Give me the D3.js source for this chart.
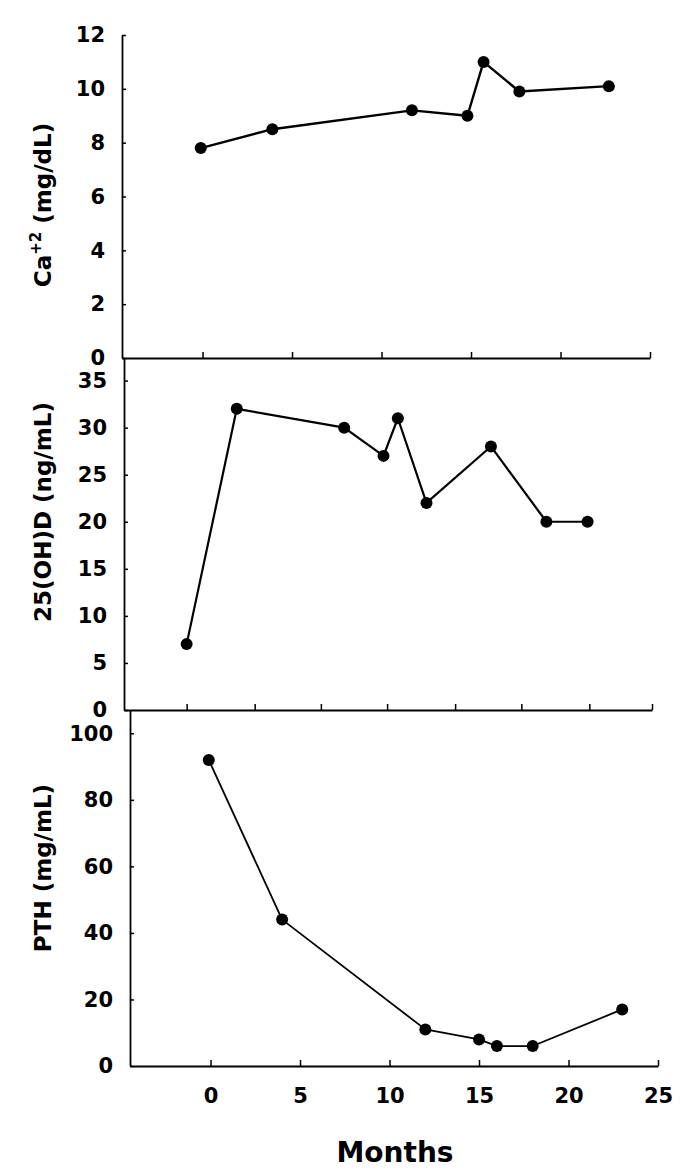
<!DOCTYPE html>
<html>
<head>
<meta charset="utf-8">
<script src="https://cdn.jsdelivr.net/npm/d3@7"></script>
<style>
  body { margin: 0; background: #fff; }
  svg text { font-family: "DejaVu Sans", sans-serif; font-weight: bold; fill: #000; }
</style>
</head>
<body>
<svg id="chart" width="700" height="1172"></svg>
<script>
// Data
const monthTicks = [0, 5, 10, 15, 20, 25];
const vitDAxisTicks = [-1, 2.8, 6.5, 10.2, 14, 17.7, 21.5, 25];

const caMonths = [-0.1, 3.9, 11.7, 14.8, 15.7, 17.7, 22.7];
const caValues = [7.8, 8.5, 9.2, 9.0, 11.0, 9.9, 10.1];
const caTicks = [0, 2, 4, 6, 8, 10, 12];

const vitDMonths = [-1, 1.8, 7.8, 10, 10.8, 12.4, 16, 19.1, 21.4];
const vitDValues = [7, 32, 30, 27, 31, 22, 28, 20, 20];
const vitDTicks = [0, 5, 10, 15, 20, 25, 30, 35];

const pthMonths = [-0.1, 4, 12, 15, 16, 18, 23];
const pthValues = [92, 44, 11, 8, 6, 6, 17];
const pthTicks = [0, 20, 40, 60, 80, 100];

const svg = d3.select('#chart');

// shared month scale, each panel is shifted a bit like in the scan
const x = d3.scaleLinear().domain([-4.5, 25]).range([0, 528]);

const panels = [
  { left: 122, top: 35, bottom: 358, yMax: 12, yTicks: caTicks, months: caMonths, values: caValues,
    xTicks: monthTicks, lineWidth: 2.4, title: 'ca', titleY: 205 },
  { left: 124, top: 358, bottom: 710, yMax: 37.4, yTicks: vitDTicks, months: vitDMonths, values: vitDValues,
    xTicks: vitDAxisTicks, lineWidth: 2.2, title: '25(OH)D (ng/mL)', titleY: 512 },
  { left: 130, top: 710, bottom: 1066, yMax: 107, yTicks: pthTicks, months: pthMonths, values: pthValues,
    xTicks: monthTicks, lineWidth: 1.8, title: 'PTH (mg/mL)', titleY: 868, labels: true }
];

panels.forEach(p => {
  const h = p.bottom - p.top;
  const g = svg.append('g').attr('transform', `translate(${p.left},${p.top})`);
  const y = d3.scaleLinear().domain([0, p.yMax]).range([h, 0]);

  // y axis, ticks pointing inward
  const yAxis = g.append('g')
    .call(d3.axisLeft(y).tickValues(p.yTicks).tickSizeInner(-4).tickSizeOuter(0).tickPadding(17));
  yAxis.selectAll('text').attr('font-size', 21);

  // x axis along the bottom of the panel
  const xAxis = g.append('g')
    .attr('transform', `translate(0,${h})`)
    .call(d3.axisBottom(x).tickValues(p.xTicks).tickSizeInner(-6).tickSizeOuter(0).tickPadding(22)
      .tickFormat(p.labels ? d3.format('d') : () => ''));
  xAxis.selectAll('text').attr('font-size', 21);

  [yAxis, xAxis].forEach(a => {
    a.select('.domain').attr('stroke-width', 1.8);
    a.selectAll('.tick line').attr('stroke-width', 1.5);
  });

  const pts = p.months.map((m, i) => ({ m: m, v: p.values[i] }));

  g.append('path')
    .datum(pts)
    .attr('fill', 'none')
    .attr('stroke', '#000')
    .attr('stroke-width', p.lineWidth)
    .attr('stroke-linejoin', 'round')
    .attr('d', d3.line().x(d => x(d.m)).y(d => y(d.v)));

  g.selectAll('.dot')
    .data(pts)
    .enter()
    .append('circle')
    .attr('class', 'dot')
    .attr('cx', d => x(d.m))
    .attr('cy', d => y(d.v))
    .attr('r', 6)
    .attr('fill', '#000');

  // rotated axis title
  const t = svg.append('text')
    .attr('transform', `translate(51,${p.titleY}) rotate(-90)`)
    .attr('text-anchor', 'middle')
    .attr('font-size', 23);
  if (p.title === 'ca') {
    t.append('tspan').text('Ca');
    t.append('tspan').attr('font-size', 15).attr('dy', -10).text('+2');
    t.append('tspan').attr('dy', 10).text(' (mg/dL)');
  } else {
    t.text(p.title);
  }
});

svg.append('text')
  .attr('x', 395)
  .attr('y', 1162)
  .attr('text-anchor', 'middle')
  .attr('font-size', 28)
  .text('Months');
</script>
</body>
</html>
